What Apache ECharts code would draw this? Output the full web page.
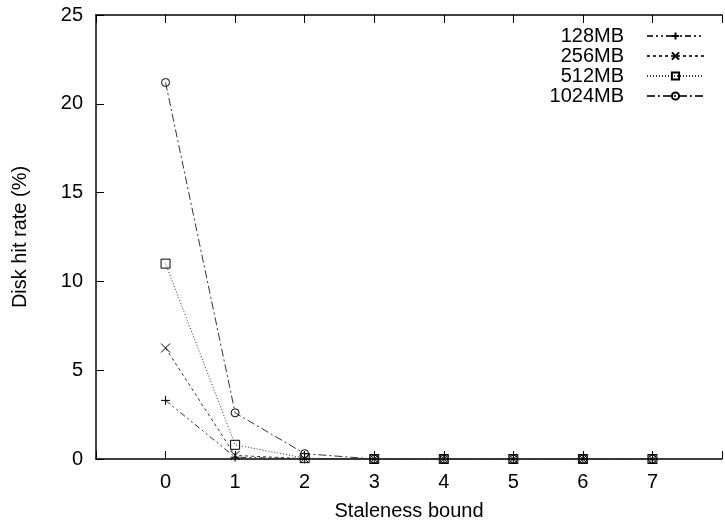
<!DOCTYPE html>
<html><head><meta charset="utf-8">
<script src="https://cdn.jsdelivr.net/npm/echarts@6/dist/echarts.min.js"></script>
<style>html,body{margin:0;padding:0;background:#fff}#c{width:725px;height:527px}</style>
</head><body><div id="c"></div>
<script>
const staleness = [0, 1, 2, 3, 4, 5, 6, 7];
const mb128 = [3.3, 0.1, 0.01, 0, 0, 0, 0, 0];
const mb256 = [6.25, 0.2, 0.02, 0, 0, 0, 0, 0];
const mb512 = [11.0, 0.8, 0.05, 0, 0, 0, 0, 0];
const mb1024 = [21.2, 2.6, 0.3, 0, 0, 0, 0, 0];
const seriesNames = ['128MB', '256MB', '512MB', '1024MB'];
const yTicks = [0, 5, 10, 15, 20, 25];

const font = 'Liberation Sans, Arial, sans-serif';
const plusPath = 'path://M0,-10L0,10M-10,0L10,0';
const crossPath = 'path://M-10,-10L10,10M-10,10L10,-10';
const squarePath = 'path://M-10,-10L10,-10L10,10L-10,10Z';
const circlePath = 'path://M10,0A10,10 0 1 1 -10,0A10,10 0 1 1 10,0Z';

function mk(name, data, symbol, size, dash) {
  return {
    name: name, type: 'line',
    data: staleness.map((x, i) => [x, data[i]]),
    symbol: symbol, symbolSize: size, showSymbol: true,
    lineStyle: { color: '#333', width: 1, type: dash },
    itemStyle: { color: 'none', borderColor: '#000', borderWidth: 1 },
    emphasis: { disabled: true },
    animation: false
  };
}

const chart = echarts.init(document.getElementById('c'));
chart.setOption({
  backgroundColor: '#fff',
  animation: false,
  grid: { left: 96, top: 15, right: -8, bottom: 68, containLabel: false },
  legend: {
    orient: 'vertical', right: 20, top: 26, align: 'right', padding: 0,
    itemWidth: 57, itemHeight: 9, itemGap: 0,
    textStyle: { fontFamily: font, fontSize: 20, color: '#000', padding: [0, 18, 0, 0], lineHeight: 20 },
    data: seriesNames
  },
  xAxis: [{
    type: 'value', min: -1, max: 8, interval: 1, position: 'bottom',
    name: 'Staleness bound', nameLocation: 'middle', nameGap: 42,
    nameTextStyle: { fontFamily: font, fontSize: 20, color: '#000' },
    axisLine: { onZero: false, lineStyle: { color: '#000', width: 1.5 } },
    axisTick: { inside: true, length: 8, lineStyle: { color: '#000', width: 1 } },
    axisLabel: { fontFamily: font, fontSize: 20, color: '#000', margin: 13,
      formatter: v => (v >= 0 && v <= 7) ? String(v) : '' },
    splitLine: { show: false }
  }, {
    type: 'value', min: -1, max: 8, interval: 1, position: 'top',
    axisLine: { show: true, onZero: false, lineStyle: { color: '#000', width: 1.5 } },
    axisTick: { inside: true, length: 8, lineStyle: { color: '#000', width: 1 } },
    axisLabel: { show: false }, splitLine: { show: false }
  }],
  yAxis: {
    type: 'value', min: 0, max: 25, interval: 5,
    name: 'Disk hit rate (%)', nameLocation: 'middle', nameGap: 66,
    nameTextStyle: { fontFamily: font, fontSize: 20, color: '#000' },
    axisLine: { show: true, onZero: false, lineStyle: { color: '#000', width: 1.5 } },
    axisTick: { show: true, inside: true, length: 8, lineStyle: { color: '#000', width: 1 } },
    axisLabel: { fontFamily: font, fontSize: 20, color: '#000', margin: 13,
      formatter: v => yTicks.includes(v) ? String(v) : '' },
    splitLine: { show: false }
  },
  series: [
    mk('128MB', mb128, plusPath, 9, [6, 3, 2, 3, 2, 3]),
    mk('256MB', mb256, crossPath, 9, [3, 3]),
    mk('512MB', mb512, squarePath, 9, [1, 2]),
    mk('1024MB', mb1024, circlePath, 8, [8, 3, 2, 3])
  ]
});
</script></body></html>
